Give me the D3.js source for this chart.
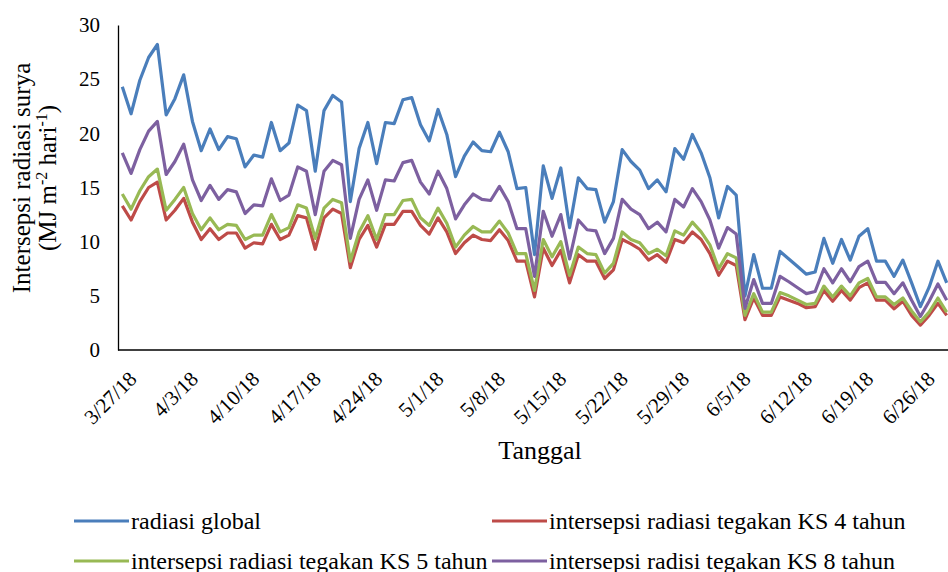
<!DOCTYPE html>
<html>
<head>
<meta charset="utf-8">
<script src="https://cdn.jsdelivr.net/npm/d3@7"></script>
<style>
  body { margin: 0; background: #fff; }
  svg { display: block; font-family: "Liberation Serif", "Times New Roman", serif; }
</style>
</head>
<body>
<svg id="chart" width="948" height="572"></svg>
<script>
// daily values, 3/27/18 .. 6/29/18
const startDate = new Date(2018, 2, 27);
const endDate = new Date(2018, 5, 30);
const tickLabels = ["3/27/18", "4/3/18", "4/10/18", "4/17/18", "4/24/18", "5/1/18", "5/8/18",
  "5/15/18", "5/22/18", "5/29/18", "6/5/18", "6/12/18", "6/19/18", "6/26/18"];
const yTicks = [0, 5, 10, 15, 20, 25, 30];

const radiasiGlobal = [24.3, 21.8, 24.9, 27.0, 28.2, 21.7, 23.2, 25.4, 21.1, 18.4, 20.4, 18.5, 19.7, 19.5, 16.9,
  18.0, 17.8, 21.0, 18.4, 19.1, 22.6, 22.1, 16.5, 22.1, 23.5, 22.9, 13.7, 18.6, 21.0, 17.2, 21.0, 20.9,
  23.1, 23.3, 20.8, 19.3, 22.2, 19.9, 16.0, 17.9, 19.2, 18.4, 18.3, 20.1, 18.3, 14.9, 15.0, 8.8,
  17.0, 14.0, 16.8, 11.3, 15.9, 14.9, 14.8, 11.8, 13.7, 18.5, 17.4, 16.6, 14.9, 15.7, 14.6, 18.6,
  17.6, 19.9, 18.2, 15.9, 12.2, 15.1, 14.3, 5.0, 8.8, 5.7, 5.7, 9.1, 8.4, 7.7, 7.0, 7.2,
  10.3, 8.0, 10.2, 8.3, 10.5, 11.2, 8.2, 8.2, 6.8, 8.3, 6.2, 4.0, 5.8, 8.2, 6.2];
const ks4 = [13.3, 12.0, 13.7, 15.0, 15.5, 12.0, 12.9, 14.0, 11.8, 10.2, 11.2, 10.2, 10.8, 10.8, 9.4,
  9.9, 9.8, 11.6, 10.2, 10.6, 12.4, 12.2, 9.3, 12.2, 13.0, 12.6, 7.6, 10.2, 11.5, 9.5, 11.6, 11.6,
  12.8, 12.8, 11.5, 10.7, 12.2, 10.9, 8.9, 9.9, 10.6, 10.2, 10.1, 11.1, 10.1, 8.2, 8.2, 4.9,
  9.4, 7.8, 9.2, 6.2, 8.8, 8.2, 8.2, 6.6, 7.4, 10.2, 9.8, 9.3, 8.3, 8.8, 8.1, 10.2,
  9.9, 10.9, 10.2, 8.9, 6.9, 8.2, 7.8, 2.8, 4.8, 3.2, 3.2, 4.9, 4.6, 4.3, 3.9, 4.0,
  5.5, 4.5, 5.5, 4.6, 5.75, 6.2, 4.6, 4.6, 3.8, 4.5, 3.2, 2.3, 3.2, 4.3, 3.2];
const ks5 = [14.4, 13.0, 14.7, 16.0, 16.7, 12.9, 13.9, 15.0, 12.6, 11.1, 12.2, 11.1, 11.6, 11.5, 10.2,
  10.6, 10.6, 12.5, 10.9, 11.3, 13.4, 13.1, 10.3, 13.1, 13.9, 13.6, 8.2, 10.9, 12.4, 10.2, 12.5, 12.5,
  13.8, 13.9, 12.2, 11.5, 13.1, 11.7, 9.5, 10.6, 11.4, 10.9, 10.9, 11.9, 10.8, 8.9, 8.9, 5.5,
  10.2, 8.6, 10.0, 6.9, 9.5, 8.9, 8.8, 7.1, 8.0, 10.9, 10.2, 9.9, 8.9, 9.3, 8.7, 11.0,
  10.6, 11.8, 10.9, 9.7, 7.5, 8.9, 8.5, 3.2, 5.2, 3.5, 3.5, 5.3, 5.0, 4.6, 4.2, 4.3,
  5.9, 4.9, 5.9, 5.0, 6.2, 6.6, 4.9, 4.9, 4.2, 4.8, 3.6, 2.6, 3.5, 4.8, 3.5];
const ks8 = [18.2, 16.3, 18.5, 20.2, 21.1, 16.2, 17.4, 19.0, 15.7, 13.8, 15.2, 13.9, 14.8, 14.6, 12.6,
  13.4, 13.3, 15.8, 13.8, 14.3, 16.9, 16.5, 12.5, 16.5, 17.5, 17.1, 10.3, 13.9, 15.7, 12.9, 15.7, 15.6,
  17.3, 17.5, 15.5, 14.4, 16.5, 14.9, 12.1, 13.4, 14.4, 13.9, 13.8, 15.1, 13.7, 11.2, 11.2, 6.8,
  12.8, 10.5, 12.5, 8.4, 12.0, 11.1, 11.0, 8.9, 10.3, 13.9, 13.0, 12.5, 11.2, 11.8, 10.9, 13.9,
  13.2, 14.9, 13.7, 12.0, 9.4, 11.3, 10.7, 3.85, 6.5, 4.3, 4.3, 6.8, 6.3, 5.75, 5.2, 5.4,
  7.5, 6.2, 7.5, 6.3, 7.7, 8.2, 6.25, 6.25, 5.2, 6.2, 4.6, 3.1, 4.5, 6.1, 4.6];

const seriesNames = ["radiasi global", "intersepsi radiasi tegakan KS 4 tahun",
  "intersepsi radiasi tegakan KS 5 tahun", "intersepsi radisi tegakan KS 8 tahun"];
const seriesValues = [radiasiGlobal, ks4, ks5, ks8];
const colors = ["#4A7EBB", "#BE4B48", "#98B954", "#7D60A0"];

const dates = d3.timeDay.range(startDate, endDate);

const svg = d3.select("#chart");
const plotLeft = 118, plotRight = 948, plotTop = 25, plotBottom = 350;

var x = d3.scaleTime()
  .domain([dates[0], dates[dates.length - 1]])
  .range([122.3, 946.7]);
var y = d3.scaleLinear().domain([0, 30]).range([plotBottom, plotTop]);

svg.append("defs").append("clipPath").attr("id", "clip")
  .append("rect").attr("x", plotLeft).attr("y", 0)
  .attr("width", plotRight - plotLeft).attr("height", plotBottom + 2);

// y axis
var yAxis = svg.append("g")
  .attr("transform", "translate(" + plotLeft + ",0)")
  .call(d3.axisLeft(y).tickValues(yTicks).tickSize(0).tickPadding(18));
yAxis.select(".domain").attr("stroke", "#000").attr("stroke-width", 1.3);
yAxis.selectAll("text").attr("font-size", 21).attr("font-family", "Liberation Serif").attr("fill", "#000");

// x axis
var tickDates = tickLabels.map(function (s) {
  var p = s.split("/");
  return new Date(2000 + +p[2], +p[0] - 1, +p[1]);
});
var xAxis = svg.append("g")
  .attr("transform", "translate(0," + plotBottom + ")")
  .call(d3.axisBottom(x).tickValues(tickDates).tickSize(0)
    .tickFormat(function (d, i) { return tickLabels[i]; }));
xAxis.select(".domain").attr("d", "M" + plotLeft + ",0H" + plotRight)
  .attr("stroke", "#000").attr("stroke-width", 1.3);
xAxis.selectAll(".tick text")
  .attr("font-size", 21).attr("font-family", "Liberation Serif").attr("fill", "#000")
  .attr("text-anchor", "end")
  .attr("x", 0).attr("y", 0).attr("dy", "0.35em")
  .attr("transform", "translate(10,25) rotate(-45)");

// lines
var line = d3.line()
  .x(function (d, i) { return x(dates[i]); })
  .y(function (d) { return y(d); });

svg.append("g").attr("clip-path", "url(#clip)")
  .selectAll("path")
  .data(seriesValues)
  .enter()
  .append("path")
  .attr("d", line)
  .attr("fill", "none")
  .attr("stroke", function (d, i) { return colors[i]; })
  .attr("stroke-width", 3.2)
  .attr("stroke-linejoin", "round");

// axis titles
var yTitle = svg.append("text")
  .attr("transform", "translate(30,178) rotate(-90)")
  .attr("text-anchor", "middle")
  .attr("font-size", 25);
yTitle.append("tspan").attr("x", 0).attr("y", 0).text("Intersepsi radiasi surya");
var t2 = yTitle.append("tspan").attr("x", 0).attr("y", 26);
t2.append("tspan").text("(MJ m");
t2.append("tspan").attr("font-size", 16).attr("dy", -9).text("-2");
t2.append("tspan").attr("dy", 9).text(" hari");
t2.append("tspan").attr("font-size", 16).attr("dy", -9).text("-1");
t2.append("tspan").attr("dy", 9).text(")");

svg.append("text")
  .attr("x", 540).attr("y", 459)
  .attr("text-anchor", "middle")
  .attr("font-size", 26)
  .text("Tanggal");

// legend
var legendPos = [[74, 521], [492, 521], [74, 561], [492, 561]];
var lg = svg.append("g").selectAll("g")
  .data(seriesNames)
  .enter()
  .append("g")
  .attr("transform", function (d, i) { return "translate(" + legendPos[i][0] + "," + legendPos[i][1] + ")"; });
lg.append("line")
  .attr("x1", 0).attr("x2", 55).attr("y1", 0).attr("y2", 0)
  .attr("stroke", function (d, i) { return colors[i]; })
  .attr("stroke-width", 3.2);
lg.append("text")
  .attr("x", 57).attr("y", 0).attr("dy", "0.33em")
  .attr("font-size", 24)
  .text(function (d) { return d; });
</script>
</body>
</html>
